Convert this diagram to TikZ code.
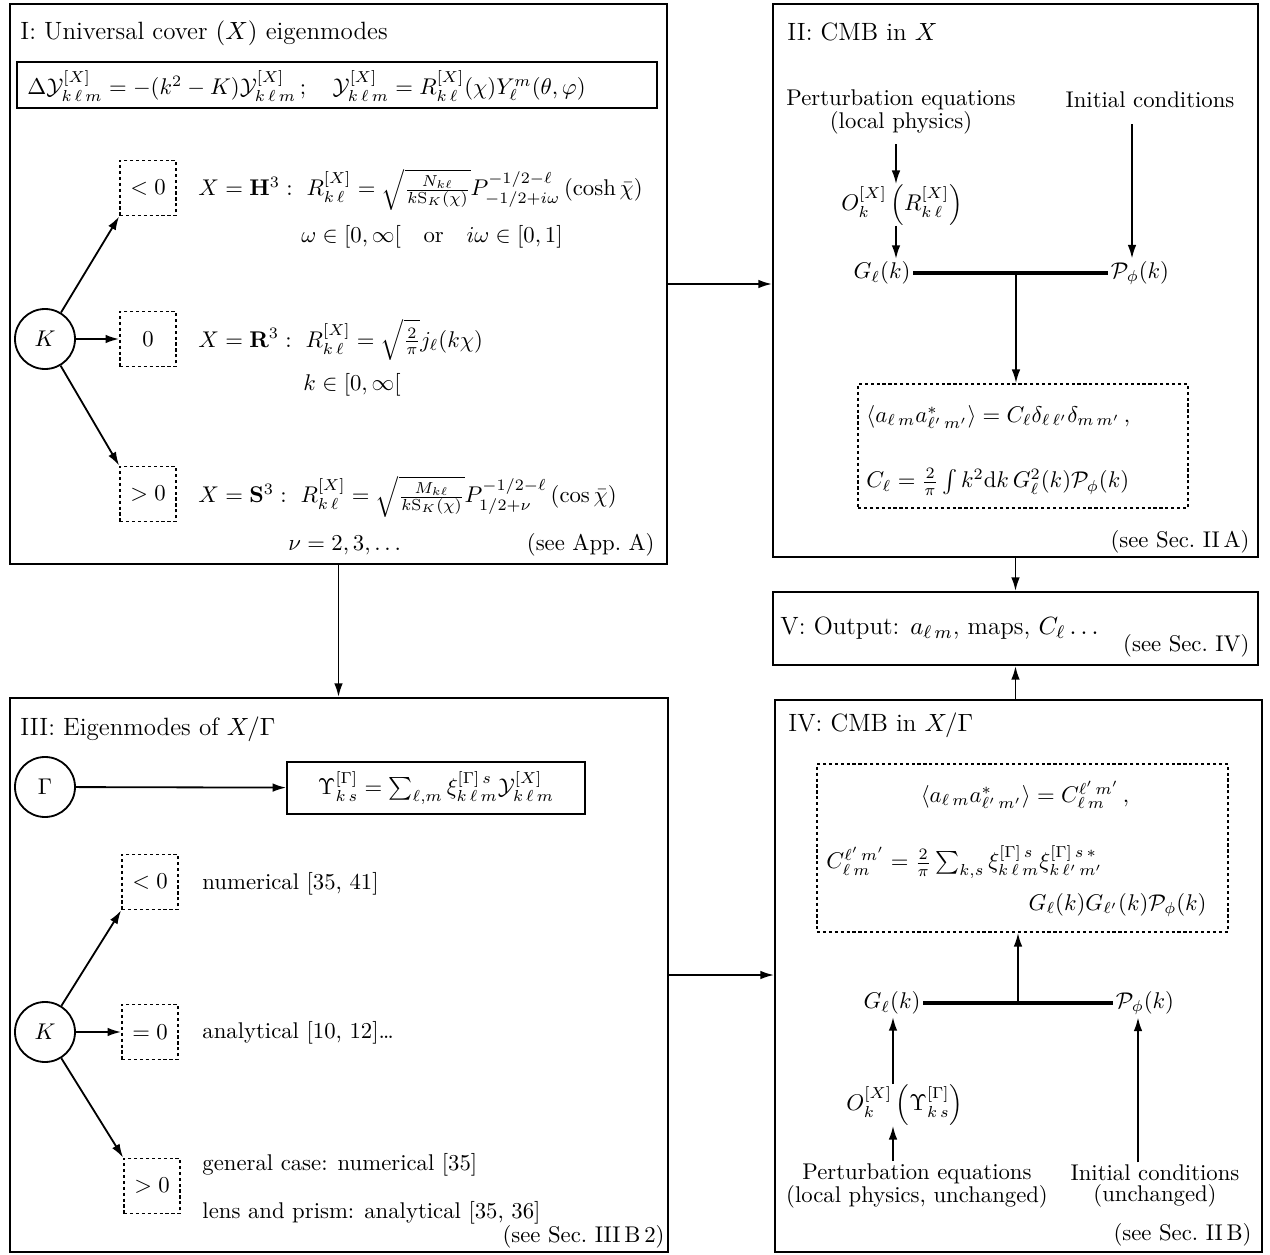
\documentclass[tikz,border=0pt]{standalone}
\usepackage{amsmath,amssymb}
\usetikzlibrary{arrows.meta,fit}
\begin{document}
\begin{tikzpicture}[x=0.44pt,y=-0.44pt,
  bigbox/.style={draw, line width=0.9pt, inner sep=0pt},
  frmbox/.style={draw, line width=0.8pt, inner sep=0pt},
  dotframe/.style={draw, line width=0.8pt, dash pattern=on 1.4pt off 1.2pt, inner sep=0pt},
  dotbox/.style={draw, line width=0.8pt, dash pattern=on 1.4pt off 1.2pt, minimum width=24.6pt, minimum height=24.2pt, inner sep=0pt},
  circ/.style={circle, draw, line width=0.8pt, minimum size=26.4pt, inner sep=0pt},
  arr/.style={-{Latex[length=6pt,width=3.8pt]}, line width=0.8pt},
  heavy/.style={line width=1.8pt},
  ttl/.style={anchor=west, inner sep=0pt, font=\fontsize{11}{13}\selectfont},
  txtw/.style={anchor=west, inner sep=0pt},
  txte/.style={anchor=east, inner sep=0pt},
  tight/.style={inner sep=1pt},
  two/.style={align=center, inner sep=1pt, font=\linespread{0.75}\selectfont}
]
\useasboundingbox (0,0) rectangle (1270,1255);

% ---------------- Box I ----------------
\node[bigbox, fit={(10,4) (667,564)}] (boxI) {};
\node[ttl] (tI) at (20,33) {I: Universal cover $(X)$ eigenmodes};
\node[frmbox, fit={(17,62) (657,108)}] (frmI) {};
\node[txtw] (eqI) at (27,86) {$\Delta\mathcal{Y}^{[X]}_{k\,\ell\,m} = -(k^2-K)\mathcal{Y}^{[X]}_{k\,\ell\,m}\,;\quad \mathcal{Y}^{[X]}_{k\,\ell\,m} = R^{[X]}_{k\,\ell}(\chi)Y^m_\ell(\theta,\varphi)$};

\node[circ] (K1) at (45,339) {$K$};
\node[dotbox] (d1) at (148,188) {$<0$};
\node[dotbox] (d2) at (148,339) {$0$};
\node[dotbox] (d3) at (148,494) {$>0$};
\draw[arr] (K1) -- (d1.south west);
\draw[arr] (K1) -- (d2);
\draw[arr] (K1) -- (d3.north west);

\node[txtw] (h1) at (198,190) {$X=\mathbf{H}^3:\ R^{[X]}_{k\,\ell} = \sqrt{\frac{N_{k\ell}}{k\mathrm{S}_K(\chi)}}P^{-1/2-\ell}_{-1/2+i\omega}\left(\cosh\bar\chi\right)$};
\node (h2) at (432,237) {$\omega\in[0,\infty[\quad\text{or}\quad i\omega\in[0,1]$};
\node[txtw] (r1) at (198,340) {$X=\mathbf{R}^3:\ R^{[X]}_{k\,\ell} = \sqrt{\tfrac{2}{\pi}}j_\ell(k\chi)$};
\node[txtw] (r2) at (303,385) {$k\in[0,\infty[$};
\node[txtw] (s1) at (198,497) {$X=\mathbf{S}^3:\ R^{[X]}_{k\,\ell} = \sqrt{\frac{M_{k\ell}}{k\mathrm{S}_K(\chi)}}P^{-1/2-\ell}_{1/2+\nu}\left(\cos\bar\chi\right)$};
\node[txtw] (s2) at (288,545) {$\nu=2,3,\ldots$};
\node[txte] (seeI) at (655,545) {(see App.~A)};

% ---------------- Box II ----------------
\node[bigbox, fit={(773,4) (1258,557)}] (boxII) {};
\node[ttl] (tII) at (787,32) {II: CMB in $X$};
\node[two] (pert1) at (901,112) {Perturbation equations\\(local physics)};
\node[tight] (init1) at (1150,100) {Initial conditions};
\node[inner sep=0pt] (O1) at (902,205) {$O^{[X]}_k\left(R^{[X]}_{k\,\ell}\right)$};
\node[tight] (G1) at (882,273) {$G_\ell(k)$};
\node[tight] (P1) at (1140,273) {$\mathcal{P}_\phi(k)$};
\coordinate (c1) at (896,0);
\coordinate (c2) at (1132,0);
\draw[arr] ([yshift=-3pt]pert1.south -| c1) -- (O1.north -| c1);
\draw[arr] (O1.south -| c1) -- (G1.north -| c1);
\draw[arr] ([yshift=-6pt]init1.south -| c2) -- (P1.north -| c2);
\draw[heavy] (G1.east) -- (P1.west);
\coordinate (j1) at (1016,271);
\node[dotframe, fit={(858,384) (1188,508)}] (dotII) {};
\draw[arr] (j1) -- (j1 |- dotII.north);
\node[txtw] (aII) at (866,417) {$\langle a_{\ell\,m}a^*_{\ell'\,m'}\rangle = C_\ell\delta_{\ell\,\ell'}\delta_{m\,m'}\,,$};
\node[txtw] (cII) at (866,482) {$C_\ell = \frac{2}{\pi}\int k^2\mathrm{d}k\,G^2_\ell(k)\mathcal{P}_\phi(k)$};
\node[txte] (seeII) at (1250,542) {(see Sec.~II\,A)};

% ---------------- Box V ----------------
\node[bigbox, fit={(773,592) (1258,665)}] (boxV) {};
\node[ttl] (tV) at (780,628) {V: Output: $a_{\ell\,m}$, maps, $C_\ell\ldots$};
\node[txte] (seeV) at (1250,646) {(see Sec.~IV)};

% ---------------- Box III ----------------
\node[bigbox, fit={(10,698) (668,1252)}] (boxIII) {};
\node[ttl] (tIII) at (20,729) {III: Eigenmodes of $X/\Gamma$};
\node[circ] (Gam) at (45,787) {$\Gamma$};
\node[frmbox, minimum width=131pt, minimum height=23pt] (ups) at (436,788) {$\Upsilon^{[\Gamma]}_{k\,s} = \sum_{\ell,m}\xi^{[\Gamma]\,s}_{k\,\ell\,m}\mathcal{Y}^{[X]}_{k\,\ell\,m}$};
\draw[arr] (Gam) -- (ups);
\node[circ] (K2) at (45,1032) {$K$};
\node[dotbox] (d4) at (150,882) {$<0$};
\node[dotbox] (d5) at (150,1032) {$=0$};
\node[dotbox] (d6) at (152,1186) {$>0$};
\draw[arr] (K2) -- (d4.south west);
\draw[arr] (K2) -- (d5);
\draw[arr] (K2) -- (d6.north west);
\node[txtw] (n1) at (202,884) {numerical [35, 41]};
\node[txtw] (n2) at (202,1033) {analytical [10, 12]\ldots};
\node[txtw] (n3) at (202,1165) {general case: numerical [35]};
\node[txtw] (n4) at (202,1213) {lens and prism: analytical [35, 36]};
\node[txte] (seeIII) at (665,1237) {(see Sec.~III\,B\,2)};

% ---------------- Box IV ----------------
\node[bigbox, fit={(775,700) (1262,1252)}] (boxIV) {};
\node[ttl] (tIV) at (788,725) {IV: CMB in $X/\Gamma$};
\node[dotframe, fit={(817,764) (1228,932)}] (dotIV) {};
\node (aIV) at (1025,795) {$\langle a_{\ell\,m}a^*_{\ell'\,m'}\rangle = C^{\ell'\,m'}_{\ell\,m}\,,$};
\node[txtw] (cIV) at (826,862) {$C^{\ell'\,m'}_{\ell\,m} = \frac{2}{\pi}\sum_{k,s}\xi^{[\Gamma]\,s}_{k\,\ell\,m}\xi^{[\Gamma]\,s\,*}_{k\,\ell'\,m'}$};
\node[txte] (gIV) at (1207,905) {$G_\ell(k)G_{\ell'}(k)\mathcal{P}_\phi(k)$};
\node[tight] (G2) at (892,1003) {$G_\ell(k)$};
\node[tight] (P2) at (1145,1003) {$\mathcal{P}_\phi(k)$};
\node[inner sep=0pt] (O2) at (905,1105) {$O^{[X]}_k\left(\Upsilon^{[\Gamma]}_{k\,s}\right)$};
\node[two] (pert2) at (917,1186) {Perturbation equations\\(local physics, unchanged)};
\node[two] (init2) at (1155,1186) {Initial conditions\\(unchanged)};
\coordinate (c3) at (893,0);
\coordinate (c4) at (1138,0);
\draw[arr] (pert2.north -| c3) -- (O2.south -| c3);
\draw[arr] (O2.north -| c3) -- (G2.south -| c3);
\draw[arr] (init2.north -| c4) -- (P2.south -| c4);
\draw[heavy] (G2.east) -- (P2.west);
\coordinate (j2) at (1018,1002);
\draw[arr] (j2) -- (j2 |- dotIV.south);
\node[txte] (seeIV) at (1252,1235) {(see Sec.~II\,B)};

% ---------------- connectors between boxes ----------------
\draw[arr] (boxI.east) -- (boxI.east -| boxII.west);
\draw[arr] (boxI.south) -- (boxI.south |- boxIII.north);
\draw[arr] (boxIII.east) -- (boxIII.east -| boxIV.west);
\draw[arr] (boxII.south) -- (boxV.north);
\draw[arr] (boxV.south |- boxIV.north) -- (boxV.south);
\end{tikzpicture}
\end{document}
